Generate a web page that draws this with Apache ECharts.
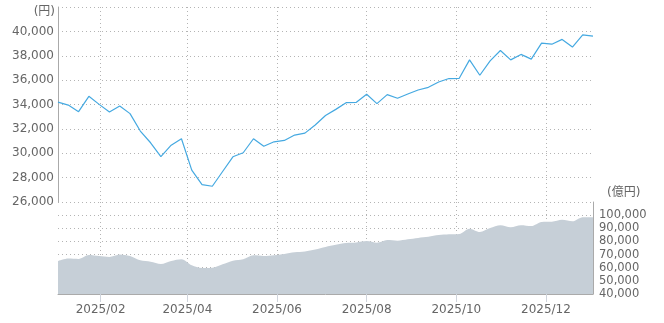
<!DOCTYPE html>
<html>
<head>
<meta charset="utf-8">
<script src="https://cdn.jsdelivr.net/npm/echarts@6/dist/echarts.min.js"></script>
<style>html,body{margin:0;padding:0;background:#fff;}#c{width:664px;height:323px;}</style>
</head>
<body>
<div id="c"></div>
<script>
var dates = [
  '2025-01-03','2025-01-10','2025-01-17','2025-01-24','2025-01-31',
  '2025-02-07','2025-02-14','2025-02-21','2025-02-28',
  '2025-03-07','2025-03-14','2025-03-21','2025-03-28',
  '2025-04-04','2025-04-11','2025-04-18','2025-04-25',
  '2025-05-02','2025-05-09','2025-05-16','2025-05-23','2025-05-30',
  '2025-06-06','2025-06-13','2025-06-20','2025-06-27',
  '2025-07-04','2025-07-11','2025-07-18','2025-07-25',
  '2025-08-01','2025-08-08','2025-08-15','2025-08-22','2025-08-29',
  '2025-09-05','2025-09-12','2025-09-19','2025-09-26',
  '2025-10-03','2025-10-10','2025-10-17','2025-10-24','2025-10-31',
  '2025-11-07','2025-11-14','2025-11-21','2025-11-28',
  '2025-12-05','2025-12-12','2025-12-19','2025-12-26',
  '2026-01-02'
];
var price = [
  34200,33950,33410,34670,34010,33380,33870,33250,31820,30860,
  29730,30660,31190,28620,27430,27290,28500,29710,30040,31190,
  30580,30940,31050,31490,31650,32320,33100,33600,34150,34180,
  34840,34070,34810,34510,34860,35190,35410,35850,36130,36150,
  37660,36400,37580,38430,37660,38110,37720,39040,38950,39340,
  38710,39720,39610
];
var assets = [
  65100,67000,66700,69700,68900,68200,70100,68900,65600,64500,
  62800,65100,66400,61800,59800,60000,62600,65300,66400,69400,
  68900,69500,70400,71700,72300,73800,75800,77400,78800,79200,
  80300,79000,81100,80600,81600,82700,83500,84800,85400,85700,
  89700,87200,90200,92300,90800,92300,91700,94800,95000,96500,
  95300,98400,98400
];
var tickMonths = ['2025-02-01','2025-04-01','2025-06-01','2025-08-01','2025-10-01','2025-12-01'];

function ts(s){ var p = s.split('-'); return new Date(+p[0], +p[1]-1, +p[2]).getTime(); }
var tickVals = tickMonths.map(ts);
var minT = ts(dates[0]), maxT = ts(dates[dates.length-1]);
var priceData = dates.map(function(d,i){ return [ts(d), price[i]]; });
var assetData = dates.map(function(d,i){ return [ts(d), assets[i]]; });
function fmtNum(v){ return v.toString().replace(/\B(?=(\d{3})+(?!\d))/g, ','); }
function fmtDate(v){ var d = new Date(v); var m = d.getMonth()+1; return d.getFullYear() + '/' + (m<10?'0'+m:m); }

var FONT = "'DejaVu Sans', 'Noto Sans CJK JP', sans-serif";
var gridLine = { show: true, lineStyle: { color: '#b4b4b4', type: [1,3], width: 1 } };

var chart = echarts.init(document.getElementById('c'), null, { renderer: 'canvas' });
chart.setOption({
  animation: false,
  textStyle: { fontFamily: FONT },
  grid: [
    { left: 58, right: 71, top: 7, height: 195 },
    { left: 58, right: 71, top: 202, height: 92 }
  ],
  xAxis: [
    { type: 'value', gridIndex: 0, min: minT, max: maxT, scale: true,
      axisLine: { show: false }, axisLabel: { show: false, customValues: tickVals },
      axisTick: { show: false, customValues: tickVals }, splitLine: gridLine },
    { type: 'value', gridIndex: 1, min: minT, max: maxT, scale: true,
      axisLine: { show: true, lineStyle: { color: '#aaaaaa', width: 1 } },
      axisTick: { show: true, customValues: tickVals, length: 8, lineStyle: { color: '#cfd4dc' } },
      axisLabel: { show: true, customValues: tickVals, formatter: fmtDate, color: '#666666', fontSize: 12, fontFamily: FONT, margin: 10 },
      splitLine: gridLine }
  ],
  yAxis: [
    { type: 'value', gridIndex: 0, min: 26000, max: 42000, interval: 2000, position: 'left',
      name: '(円)', nameLocation: 'end', nameGap: -5,
      nameTextStyle: { color: '#666666', fontSize: 12, fontFamily: FONT, align: 'right', verticalAlign: 'middle', padding: [0, 3, 0, 0] },
      axisLine: { show: true, lineStyle: { color: '#aaaaaa', width: 1 } },
      axisTick: { show: false },
      axisLabel: { color: '#666666', fontSize: 12, fontFamily: FONT, margin: 4,
        formatter: function(v){ return v >= 42000 ? '' : fmtNum(v); } },
      splitLine: gridLine },
    { type: 'value', gridIndex: 1, min: 40000, max: 110000, interval: 10000, position: 'right',
      name: '(億円)', nameLocation: 'end', nameGap: 9,
      nameTextStyle: { color: '#666666', fontSize: 12, fontFamily: FONT, align: 'left', verticalAlign: 'middle', padding: [0, 0, 0, 14] },
      axisLine: { show: true, lineStyle: { color: '#aaaaaa', width: 1 } },
      axisTick: { show: false },
      axisLabel: { color: '#666666', fontSize: 11.5, fontFamily: FONT, margin: 6,
        formatter: function(v){ return v >= 110000 ? '' : fmtNum(v); } },
      splitLine: gridLine }
  ],
  series: [
    { type: 'line', xAxisIndex: 0, yAxisIndex: 0, data: priceData, showSymbol: false, symbol: 'none',
      lineStyle: { color: '#45a9e1', width: 1.2 }, itemStyle: { color: '#45a9e1' } },
    { type: 'line', xAxisIndex: 1, yAxisIndex: 1, data: assetData, showSymbol: false, symbol: 'none', smooth: 0.3,
      lineStyle: { width: 0, color: '#c6cfd7' }, areaStyle: { color: '#c6cfd7', opacity: 1, origin: 'start' } }
  ]
});
</script>
</body>
</html>
